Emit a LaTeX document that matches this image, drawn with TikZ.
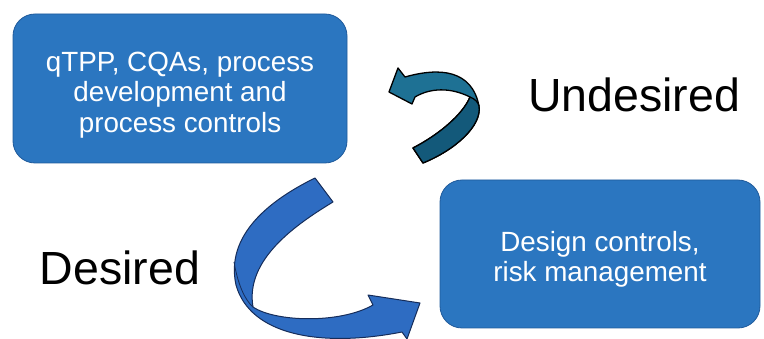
\documentclass[tikz,border=0pt]{standalone}
\usepackage{fontspec}
\setmainfont{Liberation Sans}
\usetikzlibrary{positioning}

\definecolor{boxblue}{RGB}{43,118,192}
\definecolor{boxline}{RGB}{31,90,155}
\definecolor{goodblue}{RGB}{46,108,194}
\definecolor{goodline}{RGB}{22,45,90}
\definecolor{badteal}{RGB}{30,113,148}
\definecolor{badtealdark}{RGB}{19,89,122}

\begin{document}
\begin{tikzpicture}[x=1pt,y=-1pt,line join=round,
    stagebox/.style={draw=boxline,line width=0.8pt,fill=boxblue,rounded corners=22pt,
      text=white,align=center,inner sep=0pt,font=\fontsize{27.8}{30.5}\selectfont},
    verdict/.style={font=\fontsize{46.5}{50}\selectfont,anchor=base}]
            \useasboundingbox (0,0) rectangle (764,339);

            % the two stages
            \node[stagebox,minimum width=334pt,minimum height=149pt] (qtpp) at (180,88.5)
              {\rule{0pt}{32pt}qTPP, CQAs, process\\development and\\process controls};
            \node[stagebox,minimum width=320pt,minimum height=148pt] (design) at (600,254)
              {\rule{0pt}{31pt}Design controls,\\risk management};

            \node[verdict] (undesired) at (634,112) {Undesired};
            \node[verdict] (desired) at (120,285) {Desired};

            % undesired way back
            \draw[fill=badteal,line width=1.3pt] (389,92) -- (398,68) -- (405,77)
              .. controls (440,67) and (472,70) .. (479,106)
              .. controls (482,126) and (455,150) .. (423,163) -- (413,148)
              .. controls (440,134) and (463,114) .. (470,97)
              .. controls (450,87) and (430,88) .. (415,97) -- (412,104) -- cycle;
            \draw[fill=badtealdark,line width=1.3pt] (470,97)
              .. controls (475,99) and (478,102) .. (479,106)
              .. controls (482,126) and (455,150) .. (423,163) -- (413,148)
              .. controls (440,134) and (463,114) .. cycle;

            % desired way forward
            \draw[fill=goodblue,draw=goodline,line width=1pt] (315,178) -- (333,202)
              .. controls (295,225) and (245,260) .. (253,307)
              .. controls (275,322) and (340,324) .. (373,305) -- (368,295) -- (420,303)
              -- (407,339) -- (402,332)
              .. controls (320,348) and (250,335) .. (236,285)
              .. controls (225,235) and (270,200) .. cycle;
            \draw[draw=goodline,line width=0.8pt] (234,262) .. controls (238,285) and (245,300) .. (253,307);
        \end{tikzpicture}
\end{document}
